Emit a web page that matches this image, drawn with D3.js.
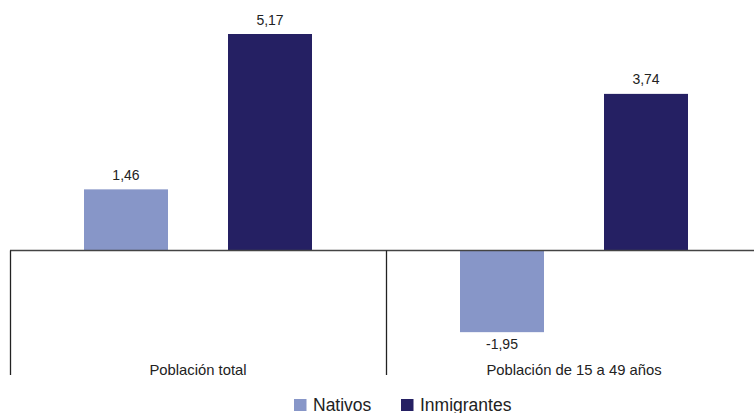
<!DOCTYPE html>
<html>
<head>
<meta charset="utf-8">
<script src="https://cdn.jsdelivr.net/npm/d3@7/dist/d3.min.js"></script>
<style>
  html, body { margin: 0; padding: 0; background: #fff; }
  svg { display: block; font-family: "Liberation Sans", Arial, sans-serif; }
</style>
</head>
<body>
<svg id="chart" width="754" height="413"></svg>
<script>
// Population growth by origin group
const categories = ["Población total", "Población de 15 a 49 años"];
const seriesNames = ["Nativos", "Inmigrantes"];
const nativos = [1.46, -1.95];
const inmigrantes = [5.17, 3.74];
const seriesColors = ["#8796c8", "#252063"];

// Spanish decimal comma, plain hyphen for negatives
const fmt = v => (v < 0 ? "-" : "") + Math.abs(v).toFixed(2).replace(".", ",");

const rows = categories.map((c, i) => ({
  category: c,
  values: [
    { series: seriesNames[0], value: nativos[i] },
    { series: seriesNames[1], value: inmigrantes[i] }
  ]
}));

const svg = d3.select("#chart");
const W = 754;

const x0 = d3.scaleBand().domain(categories).range([10, 762]).paddingInner(0).paddingOuter(0);
const x1 = d3.scaleBand().domain(seriesNames).range([0, x0.bandwidth()])
  .paddingInner(0.4167).paddingOuter(0.5139);
const y = d3.scaleLinear().domain([0, 5.17]).range([250.5, 34]);
const color = d3.scaleOrdinal().domain(seriesNames).range(seriesColors);

const groups = svg.selectAll("g.group").data(rows).join("g")
  .attr("class", "group")
  .attr("transform", d => `translate(${x0(d.category)},0)`);

groups.selectAll("rect").data(d => d.values).join("rect")
  .attr("x", d => x1(d.series))
  .attr("width", x1.bandwidth())
  .attr("y", d => y(Math.max(0, d.value)))
  .attr("height", d => Math.abs(y(d.value) - y(0)))
  .attr("fill", d => color(d.series));

groups.selectAll("text.val").data(d => d.values).join("text")
  .attr("class", "val")
  .attr("x", d => x1(d.series) + x1.bandwidth() / 2)
  .attr("y", d => d.value >= 0 ? y(d.value) - 9.5 : y(d.value) + 16.5)
  .attr("text-anchor", "middle")
  .attr("font-size", 14)
  .attr("fill", "#222")
  .text(d => fmt(d.value));

// Zero line and category separators
svg.append("line")
  .attr("x1", 10).attr("x2", W)
  .attr("y1", y(0)).attr("y2", y(0))
  .attr("stroke", "#444").attr("stroke-width", 1.5);

const seps = categories.map(c => x0(c));
svg.selectAll("line.sep").data(seps).join("line")
  .attr("class", "sep")
  .attr("x1", d => d + 0.5).attr("x2", d => d + 0.5)
  .attr("y1", y(0)).attr("y2", 375)
  .attr("stroke", "#222").attr("stroke-width", 1.3);

// Category labels
svg.selectAll("text.cat").data(categories).join("text")
  .attr("class", "cat")
  .attr("x", d => x0(d) + x0.bandwidth() / 2)
  .attr("y", 374.5)
  .attr("text-anchor", "middle")
  .attr("font-size", 14.8)
  .attr("fill", "#222")
  .text(d => d);

// Legend
const legendPos = [294, 401];
const legend = svg.selectAll("g.leg").data(seriesNames).join("g")
  .attr("class", "leg")
  .attr("transform", (d, i) => `translate(${legendPos[i]},399)`);
legend.append("rect")
  .attr("width", 12.5).attr("height", 12)
  .attr("fill", d => color(d));
legend.append("text")
  .attr("x", 19).attr("y", 12)
  .attr("font-size", 17.5)
  .attr("fill", "#222")
  .text(d => d);
</script>
</body>
</html>
